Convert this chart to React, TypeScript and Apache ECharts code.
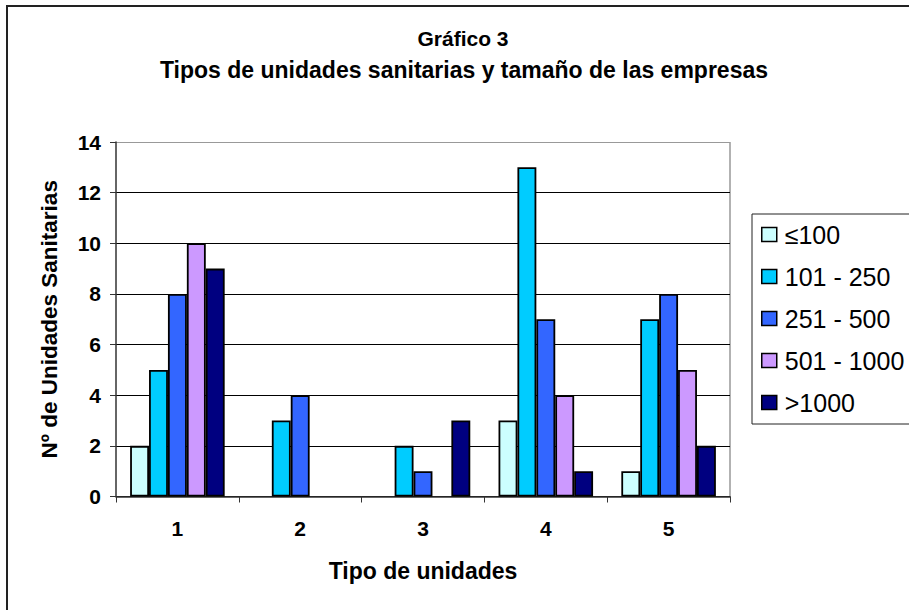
import React, { useEffect, useRef } from "react";
import * as echarts from "echarts";

const categories = ["1", "2", "3", "4", "5"];
const seriesNames = ["≤100", "101 - 250", "251 - 500", "501 - 1000", ">1000"];
const s100 = [2, 0, 0, 3, 1];
const s250 = [5, 3, 2, 13, 7];
const s500 = [8, 4, 1, 7, 8];
const s1000 = [10, 0, 0, 4, 5];
const sOver = [9, 0, 3, 1, 2];
const seriesColors = ["#CCFFFF", "#00CCFF", "#3366FF", "#CC99FF", "#000080"];
const yTicks = [0, 2, 4, 6, 8, 10, 12, 14];

const FONT = "'Liberation Sans', Arial, sans-serif";

export default function App() {
  const ref = useRef<HTMLDivElement>(null);
  useEffect(() => {
    if (!ref.current) return;
    const chart = echarts.init(ref.current, null, { renderer: "svg" });
    const values = [s100, s250, s500, s1000, sOver];
    const option: any = {
      animation: false,
      backgroundColor: "#ffffff",
      textStyle: { fontFamily: FONT },
      grid: { left: 116, top: 142, right: 179, bottom: 113.5, containLabel: false },
      legend: {
        orient: "vertical",
        left: 761,
        top: 222,
        padding: 0,
        itemWidth: 15,
        itemHeight: 14,
        itemGap: 17,
        icon: "rect",
        selectedMode: false,
        itemStyle: { borderColor: "#000", borderWidth: 1.5 },
        textStyle: { fontFamily: FONT, fontSize: 25, color: "#000", lineHeight: 24, padding: [0, 0, 0, 3] },
        data: seriesNames,
      },
      xAxis: {
        type: "category",
        data: categories,
        name: "Tipo de unidades",
        nameLocation: "middle",
        nameGap: 63,
        nameTextStyle: { fontFamily: FONT, fontSize: 23, fontWeight: "bold", color: "#000" },
        axisLine: { lineStyle: { color: "#333", width: 1.5 } },
        axisTick: { show: true, length: 6, inside: false, lineStyle: { color: "#333", width: 1 } },
        axisLabel: { margin: 21, fontFamily: FONT, fontSize: 21, fontWeight: "bold", color: "#000" },
      },
      yAxis: {
        type: "value",
        min: 0,
        max: 14,
        interval: 2,
        name: "Nº de Unidades Sanitarias",
        nameLocation: "middle",
        nameRotate: 90,
        nameGap: 55,
        nameTextStyle: { fontFamily: FONT, fontSize: 22.5, fontWeight: "bold", color: "#000" },
        axisLine: { show: true, lineStyle: { color: "#333", width: 1.5 } },
        axisTick: { show: true, length: 6, lineStyle: { color: "#333", width: 1 } },
        axisLabel: {
          margin: 15,
          fontFamily: FONT,
          fontSize: 21,
          fontWeight: "bold",
          color: "#000",
          formatter: (v: number) => (yTicks.includes(v) ? String(v) : ""),
        },
        splitLine: {
          show: true,
          lineStyle: { color: ["#000", "#000", "#000", "#000", "#000", "#000", "#000", "#999"], width: 1 },
        },
      },
      series: seriesNames.map((name, i) => ({
        name,
        type: "bar",
        data: values[i].map((v) => (v === 0 ? { value: 0, itemStyle: { borderWidth: 0 } } : v)),
        barGap: "0%",
        barCategoryGap: "23%",
        itemStyle: { color: seriesColors[i], borderColor: "#000", borderWidth: 1.8 },
      })),
      graphic: [
        {
          type: "rect",
          shape: { x: 7, y: 6, width: 1000, height: 1000 },
          style: { fill: "none", stroke: "#222", lineWidth: 2 },
          silent: true,
        },
        {
          type: "line",
          shape: { x1: 730, y1: 142, x2: 730, y2: 497 },
          style: { stroke: "#999", lineWidth: 1.5 },
          silent: true,
        },
        {
          type: "rect",
          shape: { x: 752, y: 214, width: 300, height: 210 },
          style: { fill: "none", stroke: "#222", lineWidth: 1 },
          silent: true,
        },
        {
          type: "text",
          x: 463,
          y: 38,
          style: { text: "Gráfico 3", font: `bold 21px ${FONT}`, fill: "#000", textAlign: "center", textVerticalAlign: "middle" },
        },
        {
          type: "text",
          x: 464,
          y: 70,
          style: {
            text: "Tipos de unidades sanitarias y tamaño de las empresas",
            font: `bold 23px ${FONT}`,
            fill: "#000",
            textAlign: "center",
            textVerticalAlign: "middle",
          },
        },
      ],
    };
    chart.setOption(option);
    return () => chart.dispose();
  }, []);
  return <div ref={ref} style={{ position: "absolute", left: 0, top: 0, width: 909, height: 610 }} />;
}
